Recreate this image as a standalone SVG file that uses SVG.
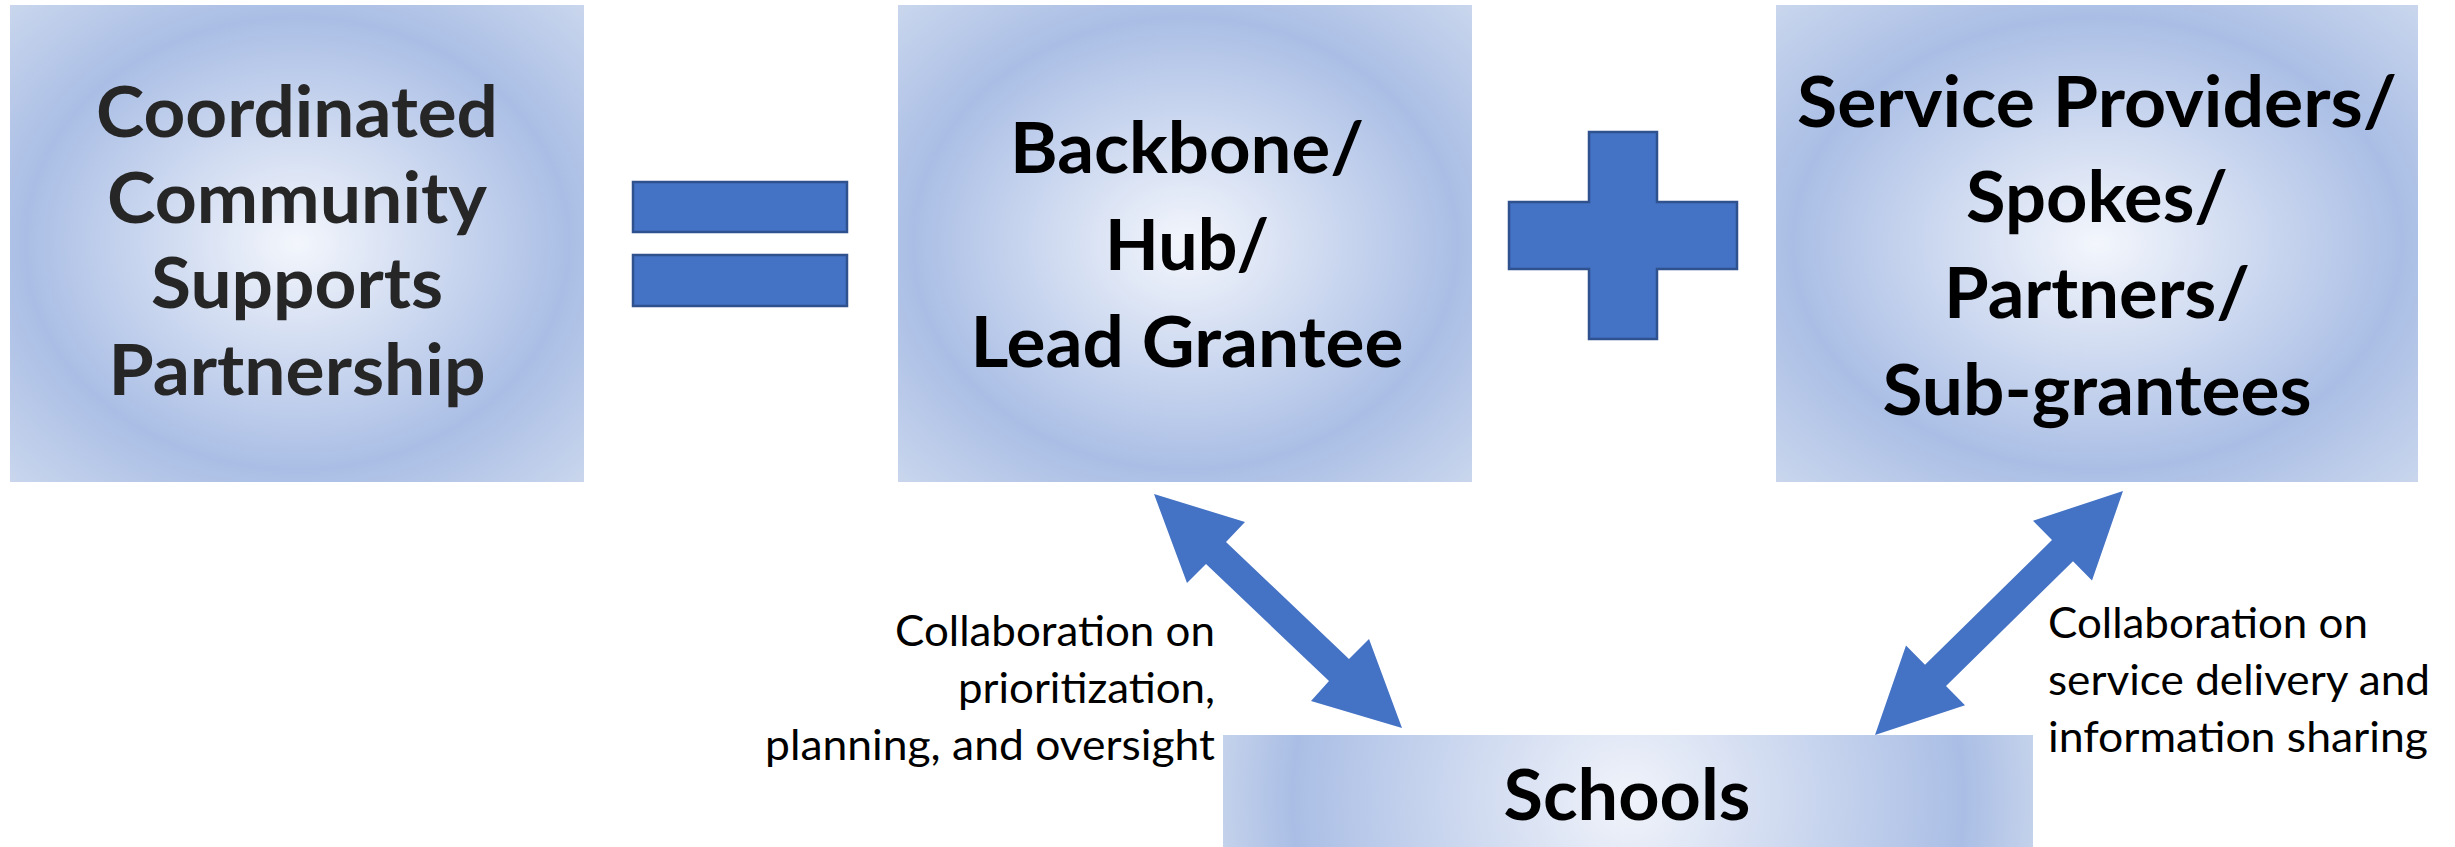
<svg xmlns="http://www.w3.org/2000/svg" width="2455" height="847" viewBox="0 0 2455 847">
  <defs>
    <radialGradient id="sq" cx="0.5" cy="0.5" r="0.707">
      <stop offset="0" stop-color="#f3f6fc"/>
      <stop offset="0.67" stop-color="#aabee5"/>
      <stop offset="1" stop-color="#c9d6ed"/>
    </radialGradient>
    <radialGradient id="sch" gradientUnits="userSpaceOnUse" cx="1628" cy="800" r="420">
      <stop offset="0" stop-color="#f0f3fa"/>
      <stop offset="0.8" stop-color="#aabee5"/>
      <stop offset="1" stop-color="#c8d5ec"/>
    </radialGradient>
  </defs>
  <style>
    .box { fill: url(#sq); }
    .big { font-family: Lato, "Liberation Sans", sans-serif; font-weight: bold; font-size: 70px; text-anchor: middle; fill: #000; }
    .lbl { font-family: Lato, "Liberation Sans", sans-serif; font-size: 42px; fill: #000; }
    .sym { fill: #4472C4; stroke: #2F528F; stroke-width: 2.5; }
    .arrow { fill: #4472C4; }
  </style>
  <rect width="2455" height="847" fill="#ffffff"/>

  <g id="node-partnership">
    <rect class="box" x="10" y="5" width="574" height="477"/>
    <text class="big" style="fill:#262626" lengthAdjust="spacingAndGlyphs">
      <tspan x="297" y="137" textLength="402" lengthAdjust="spacingAndGlyphs">Coordinated</tspan>
    </text>
    <text class="big" style="fill:#262626" x="297" y="223" textLength="380" lengthAdjust="spacingAndGlyphs">Community</text>
    <text class="big" style="fill:#262626" x="297" y="308" textLength="292" lengthAdjust="spacingAndGlyphs">Supports</text>
    <text class="big" style="fill:#262626" x="297" y="395" textLength="377" lengthAdjust="spacingAndGlyphs">Partnership</text>
  </g>

  <g id="equals">
    <rect class="sym" x="633" y="182" width="214" height="50"/>
    <rect class="sym" x="633" y="255" width="214" height="51"/>
  </g>

  <g id="node-backbone">
    <rect class="box" x="898" y="5" width="574" height="477"/>
    <text class="big" x="1187" y="173" textLength="354" lengthAdjust="spacingAndGlyphs">Backbone/</text>
    <text class="big" x="1187" y="270" textLength="164" lengthAdjust="spacingAndGlyphs">Hub/</text>
    <text class="big" x="1187" y="367" textLength="433" lengthAdjust="spacingAndGlyphs">Lead Grantee</text>
  </g>

  <g id="plus">
    <polygon class="sym" points="1589,132 1657,132 1657,202 1737,202 1737,269 1657,269 1657,339 1589,339 1589,269 1509,269 1509,202 1589,202"/>
  </g>

  <g id="node-providers">
    <rect class="box" x="1776" y="5" width="642" height="477"/>
    <text class="big" x="2097" y="127" textLength="600" lengthAdjust="spacingAndGlyphs">Service Providers/</text>
    <text class="big" x="2097" y="222" textLength="262" lengthAdjust="spacingAndGlyphs">Spokes/</text>
    <text class="big" x="2097" y="318" textLength="306" lengthAdjust="spacingAndGlyphs">Partners/</text>
    <text class="big" x="2097" y="415" textLength="429" lengthAdjust="spacingAndGlyphs">Sub-grantees</text>
  </g>

  <g id="node-schools">
    <rect x="1223" y="735" width="810" height="130" fill="url(#sch)"/>
    <text class="big" x="1627" y="820" textLength="247" lengthAdjust="spacingAndGlyphs">Schools</text>
  </g>

  <g id="connectors">
    <polygon class="arrow" points="1154,494 1245,522 1226,542 1349,659 1369,639 1402,728 1311,701 1329,681 1206,564 1187,583"/>
    <polygon class="arrow" points="2123,491 2092,580.5 2073,561.3 1946,686 1965,705.3 1875,735 1906,645.5 1925,664.7 2052,540 2033,520.7"/>
    <g id="label-left">
      <text class="lbl" x="1215" y="646" text-anchor="end" textLength="320" lengthAdjust="spacingAndGlyphs">Collaboration on</text>
      <text class="lbl" x="1215" y="703" text-anchor="end" textLength="257" lengthAdjust="spacingAndGlyphs">prioritization,</text>
      <text class="lbl" x="1215" y="760" text-anchor="end" textLength="450" lengthAdjust="spacingAndGlyphs">planning, and oversight</text>
    </g>
    <g id="label-right">
      <text class="lbl" x="2048" y="638" textLength="320" lengthAdjust="spacingAndGlyphs">Collaboration on</text>
      <text class="lbl" x="2048" y="695" textLength="382" lengthAdjust="spacingAndGlyphs">service delivery and</text>
      <text class="lbl" x="2048" y="752" textLength="380" lengthAdjust="spacingAndGlyphs">information sharing</text>
    </g>
  </g>
</svg>
